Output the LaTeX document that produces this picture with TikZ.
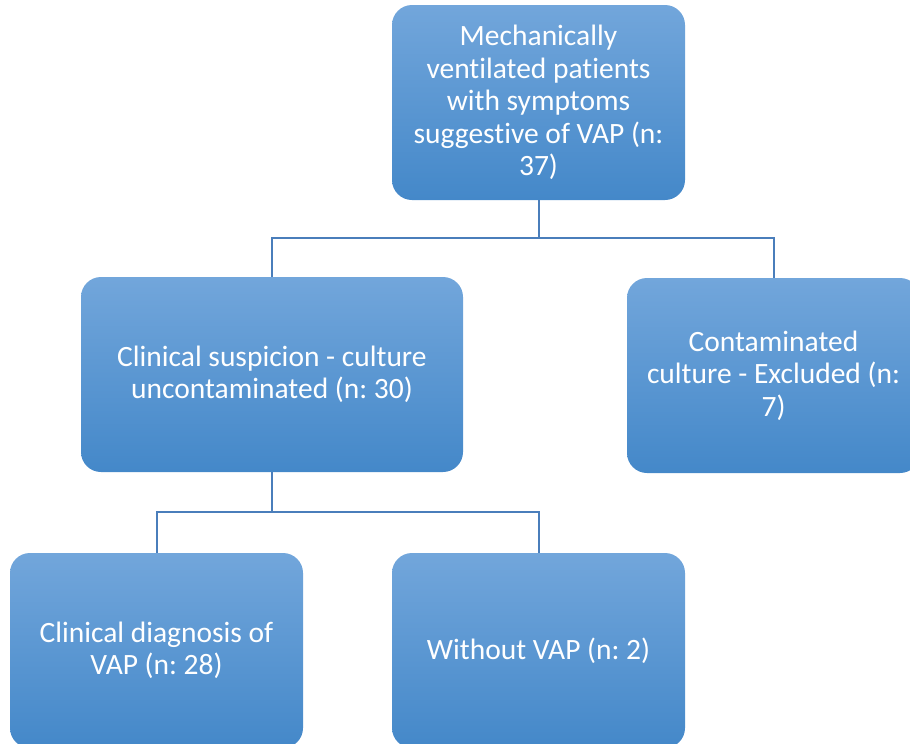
\documentclass[tikz,border=0pt]{standalone}
\usepackage{fontspec}
\setmainfont{Carlito}[Ligatures={NoCommon}]
\frenchspacing
\definecolor{boxtop}{RGB}{114,166,219}
\definecolor{boxbot}{RGB}{68,136,201}
\definecolor{linkcol}{RGB}{74,126,187}
\tikzset{
  flowbox/.style={rectangle, rounded corners=20pt, top color=boxtop, bottom color=boxbot,
    draw=none, text=white, align=center, inner sep=0pt,
    font=\fontsize{29.5}{32.5}\selectfont},
  link/.style={draw=linkcol, line width=2pt}
}
\begin{document}
\begin{tikzpicture}[x=1pt,y=-1pt]
\useasboundingbox (0,0) rectangle (910,744);
\clip (0,0) rectangle (910,744);
\node[flowbox, minimum width=293pt, minimum height=195pt] (top) at (538.5,102.5)
  {Mechanically\\ventilated patients\\with symptoms\\suggestive of VAP (n:\\37)};
\node[flowbox, minimum width=382pt, minimum height=195pt] (mid) at (272,374.5)
  {Clinical suspicion - culture\\uncontaminated (n: 30)};
\node[flowbox, minimum width=293pt, minimum height=195pt] (excl) at (773.5,375.5)
  {Contaminated\\culture - Excluded (n:\\7)};
\node[flowbox, minimum width=293pt, minimum height=195pt] (diag) at (156.5,650.5)
  {Clinical diagnosis of\\VAP (n: 28)};
\node[flowbox, minimum width=293pt, minimum height=195pt] (novap) at (538.5,650.5)
  {Without VAP (n: 2)};
\draw[link] (top.south) -- ++(0,38) coordinate (j1) -| (mid.north);
\draw[link] (j1) -| (excl.north);
\draw[link] (mid.south) -- ++(0,40) coordinate (j2) -| (diag.north);
\draw[link] (j2) -| (novap.north);
\end{tikzpicture}
\end{document}
